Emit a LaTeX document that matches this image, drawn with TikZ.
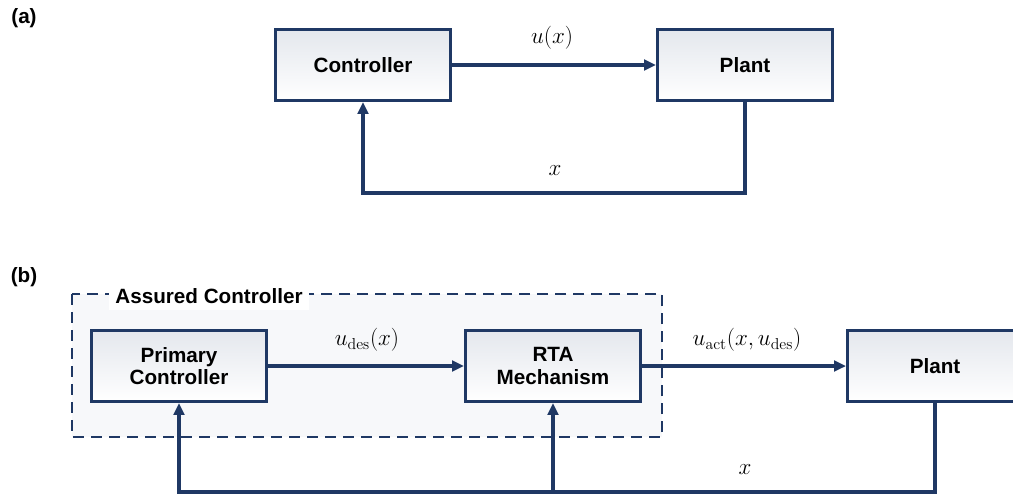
\documentclass[tikz,border=0pt]{standalone}
\usepackage{fontspec}
\setmainfont{Liberation Sans}
\setmathrm{Latin Modern Roman}
\usepackage{xcolor}
\usetikzlibrary{arrows.meta,positioning}
\definecolor{navy}{HTML}{1F3864}
\definecolor{boxtop}{HTML}{E4E7ED}
\definecolor{areafill}{HTML}{F7F8FA}

\begin{document}
\begin{tikzpicture}[
  x=0.75pt,y=-0.75pt,
  blk/.style={draw=navy,line width=2.4pt,top color=boxtop,bottom color=white,align=center,
    minimum width=131pt,minimum height=53pt,inner sep=2pt,font=\fontsize{15.5}{17}\selectfont\bfseries},
  lbl/.style={font=\fontsize{17}{19}\selectfont,inner sep=1pt},
  tag/.style={font=\fontsize{15.5}{17}\selectfont\bfseries,inner sep=1pt},
  arr/.style={-{Triangle[length=9pt,width=8pt]},line width=2.4pt,draw=navy}
]
\useasboundingbox (0,0) rectangle (1013,496);

% (a) plain loop
\node[tag] (taga) at (24,18) {(a)};
\node[blk] (ctrl) at (363,65) {Controller};
\node[blk] (plant) at (745,65) {Plant};
\node[lbl] (ua) at (552,38) {$u(x)$};
\node[lbl] (xa) at (555,171) {$x$};
\coordinate (fba) at (555,193);
\draw[arr] (ctrl) -- (plant);
\draw[arr] (plant.south) |- (fba) -| (ctrl.south);

% (b) with run time assurance
\node[tag] (tagb) at (24,277) {(b)};
\draw[navy,line width=2.2pt,dash pattern=on 8pt off 5.5pt,fill=areafill] (72,294) rectangle (662,437);
\node[tag,fill=white,inner sep=5pt] (assured) at (209,296) {Assured Controller};
\node[blk] (pc) at (179,366) {Primary\\Controller};
\node[blk] (rta) at (553,366) {RTA\\Mechanism};
\node[blk] (plantb) at (935,366) {Plant};
\node[lbl] (udes) at (367,340) {$u_{\mathrm{des}}(x)$};
\node[lbl] (uact) at (747,340) {$u_{\mathrm{act}}(x,u_{\mathrm{des}})$};
\node[lbl] (xb) at (745,470) {$x$};
\coordinate (fbb) at (553,492);
\draw[arr] (pc) -- (rta);
\draw[arr] (rta) -- (plantb);
\draw[arr] (plantb.south) |- (fbb) -| (pc.south);
\draw[arr] (fbb) -- (rta.south);
\end{tikzpicture}
\end{document}
